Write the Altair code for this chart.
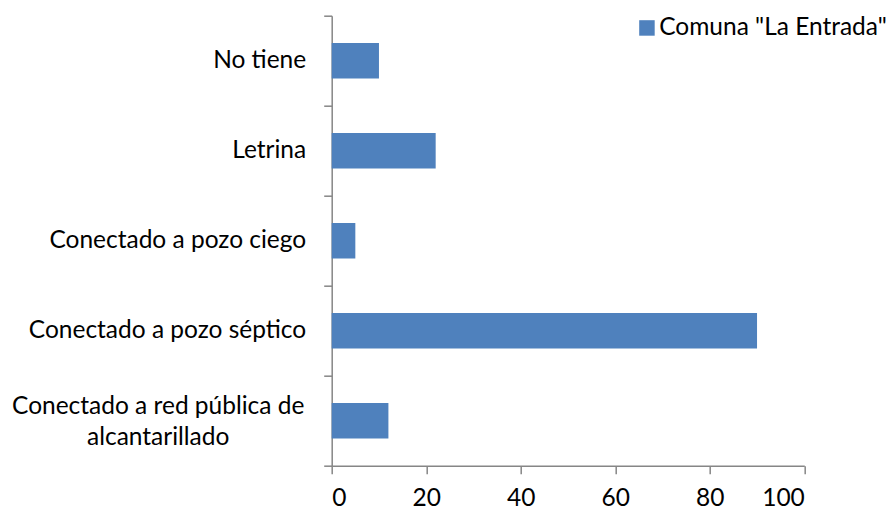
import altair as alt
import pandas as pd

categories = [
    "No tiene",
    "Letrina",
    "Conectado a pozo ciego",
    "Conectado a pozo séptico",
    "Conectado a red pública de alcantarillado",
]
values = [10, 22, 5, 90, 12]
series_name = 'Comuna "La Entrada"'
x_ticks = [0, 20, 40, 60, 80, 100]

df = pd.DataFrame({"cat": categories, "val": values, "serie": [series_name] * len(categories)})

FONT = "Lato"
FS = 24.5
AX = "#868686"

long_cat = "Conectado a red pública de alcantarillado"
test = f"datum.value == '{long_cat}'"
label_expr = (
    f"{test} ? ['Conectado a red pública de', 'alcantarillado'] : datum.value"
)

chart = (
    alt.Chart(df)
    .mark_bar(size=35.4, color="#4F81BD")
    .encode(
        x=alt.X(
            "val:Q",
            scale=alt.Scale(domain=[0, 100], nice=False),
            axis=alt.Axis(
                title=None,
                values=x_ticks,
                grid=False,
                tickSize=8,
                tickColor=AX,
                domainColor=AX,
                tickWidth=1.5,
                domainWidth=1.5,
                labelFont=FONT,
                labelFontSize=FS,
                labelColor="black",
                labelPadding=13,
            ),
        ),
        y=alt.Y(
            "cat:N",
            sort=categories,
            scale=alt.Scale(paddingInner=0, paddingOuter=0),
            axis=alt.Axis(
                title=None,
                tickBand="extent",
                tickExtra=True,
                tickSize=8,
                tickColor=AX,
                domainColor=AX,
                tickWidth=1.5,
                domainWidth=1.5,
                labelFont=FONT,
                labelFontSize=FS,
                labelColor="black",
                labelAlign={"condition": {"test": test, "value": "center"}, "value": "right"},
                labelPadding={"condition": {"test": test, "value": 166}, "value": 18},
                labelOffset={"condition": {"test": test, "value": -14}, "value": 0},
                labelLineHeight=31,
                labelLimit=400,
                labelExpr=label_expr,
            ),
        ),
        color=alt.Color(
            "serie:N",
            scale=alt.Scale(range=["#4F81BD"]),
            legend=alt.Legend(
                title=None,
                orient="none",
                legendX=303,
                legendY=0,
                symbolType="square",
                symbolSize=240,
                symbolStrokeWidth=0,
                labelFont=FONT,
                labelFontSize=FS,
                labelColor="black",
                labelOffset=0,
                labelLimit=400,
                padding=0,
            ),
        ),
    )
    .properties(
        width=472.6,
        height=450,
        autosize=alt.AutoSizeParams(type="none"),
        padding={"left": 323.7, "top": 7.7, "right": 82.7, "bottom": 46},
    )
    .configure_view(stroke=None)
)

chart.save("out.html", embed_options={"renderer": "svg", "actions": False})
